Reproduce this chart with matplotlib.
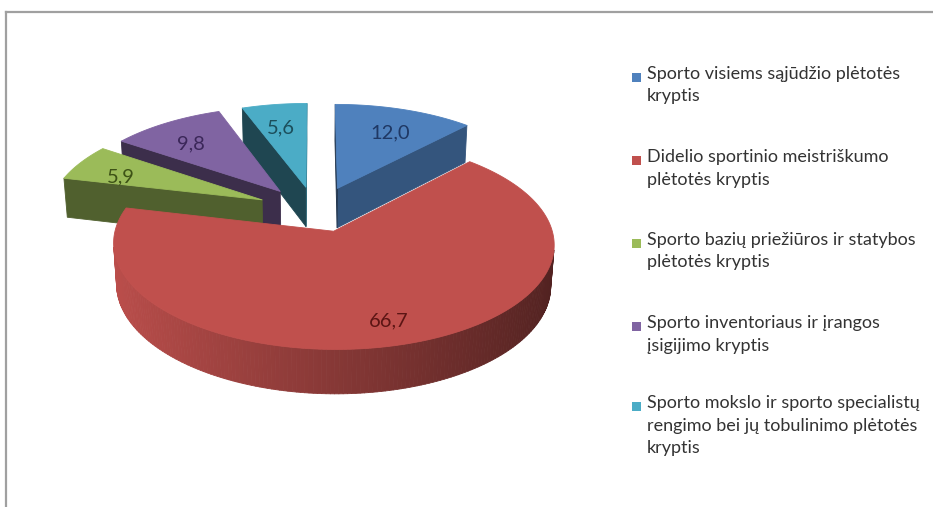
import numpy as np
import matplotlib.pyplot as plt
from matplotlib.patches import Polygon, Rectangle
from matplotlib.lines import Line2D
from matplotlib.colors import to_rgb

# === Duomenys ===
categories = [
    "Sporto visiems sąjūdžio plėtotės\nkryptis",
    "Didelio sportinio meistriškumo\nplėtotės kryptis",
    "Sporto bazių priežiūros ir statybos\nplėtotės kryptis",
    "Sporto inventoriaus ir įrangos\nįsigijimo kryptis",
    "Sporto mokslo ir sporto specialistų\nrengimo bei jų tobulinimo plėtotės\nkryptis",
]
shares = [12.0, 66.7, 5.9, 9.8, 5.6]
share_labels = ["12,0", "66,7", "5,9", "9,8", "5,6"]
top_colors = ["#4f81bd", "#c0504d", "#9bbb59", "#8064a2", "#4bacc6"]
label_colors = ["#1f3864", "#5c1514", "#3d5216", "#3b2759", "#1c4f5c"]

plt.rcParams["font.family"] = ["Lato", "DejaVu Sans"]

W, H = 933, 507
fig = plt.figure(figsize=(W / 100, H / 100), dpi=100)
ax = fig.add_axes([0, 0, 1, 1])
ax.set_xlim(0, W)
ax.set_ylim(H, 0)
ax.axis("off")

# === 3D projekcija ===
phi = np.radians(29)
D = 7.5          # kameros atstumas
S = 210          # mastelis (px)
CX, CY = 316, 249
thick = 0.215
ex, ey = 0.28, 0.23   # išskleidimas
cam = np.array([0, -D * np.cos(phi), D * np.sin(phi)])


def proj(x, y, z):
    depth = D + y * np.cos(phi) - z * np.sin(phi)
    up = y * np.sin(phi) + z * np.cos(phi)
    return CX + S * x * D / depth, CY - S * up * D / depth


def visible(normal, point):
    return np.dot(normal, cam - np.asarray(point)) > 0


def shade(color, k):
    return tuple(np.clip(np.array(to_rgb(color)) * k, 0, 1))


def face(pts3d, color):
    xy = [proj(*p) for p in pts3d]
    ax.add_patch(Polygon(xy, closed=True, facecolor=color, edgecolor=color,
                         lw=0.6, joinstyle="round"))


# kampai: pradžia 90°, pagal laikrodžio rodyklę
slices = []
start = 90.0
for i, v in enumerate(shares):
    a1 = np.radians(start)
    a0 = np.radians(start - v * 3.6)
    start -= v * 3.6
    mid = (a0 + a1) / 2
    slices.append((i, a0, a1, mid, ex * np.cos(mid), ey * np.sin(mid)))

# piešiam nuo galinių iki priekinių
for i, a0, a1, mid, ox, oy in sorted(slices, key=lambda s: -s[5]):
    col = top_colors[i]
    ts = np.linspace(a0, a1, max(int(np.degrees(a1 - a0)), 2) + 1)

    # išorinė sienelė
    for ta, tb in zip(ts[:-1], ts[1:]):
        tm = (ta + tb) / 2
        n = np.array([np.cos(tm), np.sin(tm), 0])
        if visible(n, (ox + np.cos(tm), oy + np.sin(tm), 0)):
            k = 0.7 - 0.28 * np.cos(tm)
            face([(ox + np.cos(ta), oy + np.sin(ta), thick),
                  (ox + np.cos(tb), oy + np.sin(tb), thick),
                  (ox + np.cos(tb), oy + np.sin(tb), 0),
                  (ox + np.cos(ta), oy + np.sin(ta), 0)], shade(col, k))

    # radialinės plokštumos
    for t, n in [(a0, np.array([np.sin(a0), -np.cos(a0), 0])),
                 (a1, np.array([-np.sin(a1), np.cos(a1), 0]))]:
        if visible(n, (ox, oy, 0)):
            k = 0.55 + 0.15 * n[0]
            face([(ox, oy, thick),
                  (ox + np.cos(t), oy + np.sin(t), thick),
                  (ox + np.cos(t), oy + np.sin(t), 0),
                  (ox, oy, 0)], shade(col, k))

    # viršus
    top = [(ox, oy, thick)] + [(ox + np.cos(t), oy + np.sin(t), thick) for t in ts]
    face(top, col)

# reikšmių etiketės
r_lab = 0.77
for i, a0, a1, mid, ox, oy in slices:
    lx, ly = proj(ox + r_lab * np.cos(mid), oy + r_lab * np.sin(mid), thick)
    ax.text(lx, ly + 6, share_labels[i], ha="center", va="center",
            fontsize=14.5, color=label_colors[i])

# === Legenda ===
leg_y = [77, 160, 243, 326, 406]
for i, lab in enumerate(categories):
    y = leg_y[i]
    ax.add_patch(Rectangle((632, y - 4.5), 9, 9, facecolor=top_colors[i],
                           edgecolor="none"))
    ax.text(647, y - 11, lab, ha="left", va="top", fontsize=13,
            color="#333333", linespacing=1.5)

# rėmelis
ax.add_line(Line2D([6, W], [12, 12], color="#a0a0a0", lw=1.6))
ax.add_line(Line2D([6, 6], [12, H], color="#a0a0a0", lw=1.6))

fig.savefig("out.png", dpi=100)
